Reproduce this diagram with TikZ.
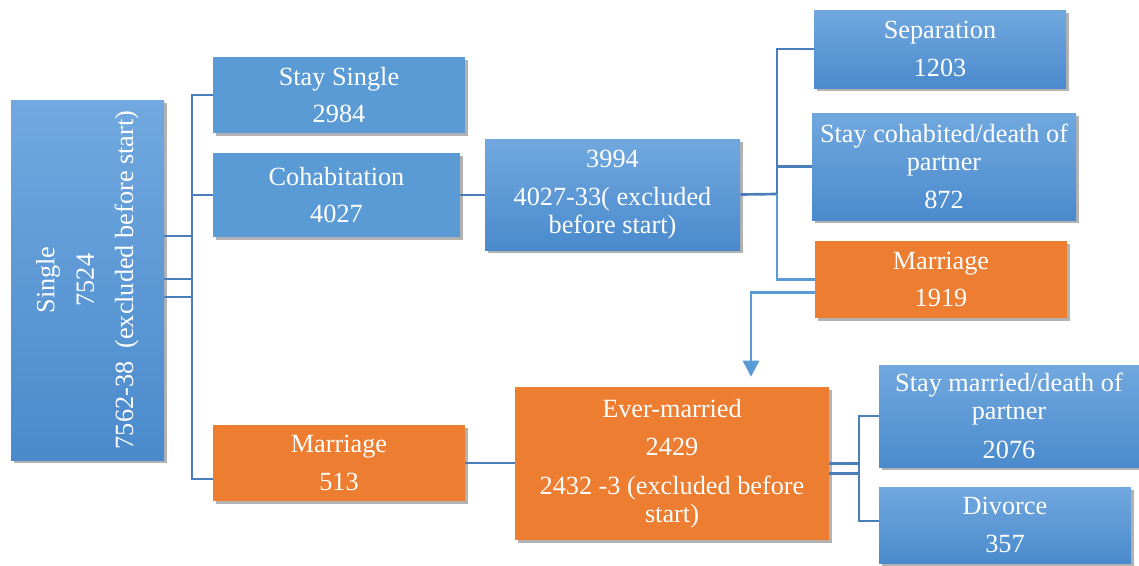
\documentclass[tikz,border=0pt]{standalone}
\usepackage{fontspec}
\setmainfont{Liberation Serif}
\usetikzlibrary{shadows,arrows.meta}

\definecolor{boxblue}{HTML}{5B9BD5}
\definecolor{boxtop}{HTML}{71A8DF}
\definecolor{boxbot}{HTML}{4A8ACC}
\definecolor{boxorange}{HTML}{ED7D31}
\definecolor{linedark}{HTML}{4A7EBB}
\definecolor{linelight}{HTML}{5B9BD5}

\tikzset{
  boxsize/.style 2 args={minimum width=#1*0.75pt, minimum height=#2*0.75pt},
  box/.style={inner sep=0pt, align=center, text=white,
    font=\fontsize{19.7}{21}\selectfont,
    drop shadow={shadow xshift=2.5pt, shadow yshift=-2.5pt, fill=black, opacity=0.3}},
  flatbox/.style={box, fill=boxblue},
  shadebox/.style={box, top color=boxtop, bottom color=boxbot},
  orangebox/.style={box, fill=boxorange},
  conn/.style={draw=linedark, line width=2pt},
  connl/.style={draw=linelight, line width=2pt},
}

\begin{document}
\begin{tikzpicture}[x=0.75pt,y=-0.75pt]
  \useasboundingbox (0,0) rectangle (1139,565);

  % boxes
  \node[shadebox, boxsize={153}{360}] (single) at (87.5,280) {};
  \node[rotate=90, align=center, text=white, font=\fontsize{19.7}{21}\selectfont] (singlelabel) at (single.center)
    {Single\\[8.5pt]7524\\[8.5pt]7562-38~~(excluded before start)};
  \node[flatbox, boxsize={252}{76}] (staysingle) at (339,95) {Stay Single\\[7pt]2984};
  \node[flatbox, boxsize={247}{84}] (cohab) at (336.5,195) {Cohabitation\\[7pt]4027};
  \node[orangebox, boxsize={252}{76}] (marrlow) at (339,463) {Marriage\\[7pt]513};
  \node[shadebox, boxsize={255}{111}] (cohabnet) at (612.5,194.5) {3994\\[8pt]4027-33( excluded\\before start)};
  \node[shadebox, boxsize={252}{78}] (separation) at (940,49) {Separation\\[7pt]1203};
  \node[shadebox, boxsize={264}{107}] (staycohab) at (944,166.5) {Stay cohabited/death of\\partner\\[8pt]872};
  \node[orangebox, boxsize={252}{77}] (marrtop) at (941,279.5) {Marriage\\[7pt]1919};
  \node[orangebox, boxsize={314}{153}] (evermarried) at (672,463.5) {Ever-married\\[8pt]2429\\[8pt]2432 -3 (excluded before\\start)};
  \node[shadebox, boxsize={260}{102}] (staymarried) at (1009,416) {Stay married/death of\\partner\\[8pt]2076};
  \node[shadebox, boxsize={252}{76}] (divorce) at (1005,525) {Divorce\\[7pt]357};

  % joints
  \coordinate (ljoin) at (192,95);
  \coordinate (rjoin) at (777,194);
  \coordinate (mjoin) at (859,416);

  % connectors
  \draw[conn] (staysingle.west) -| ([yshift=-12pt]marrlow.west -| ljoin) -- ([yshift=-12pt]marrlow.west);
  \draw[conn] (cohab.west) -- (cohab.west -| ljoin);
  \foreach \s in {33pt,0.75pt,-12.75pt}
    \draw[conn] ([yshift=\s]single.east) -- ([yshift=\s]single.east -| ljoin);
  \draw[conn] (cohab.east) -- (cohab.east -| cohabnet.west);
  \draw[conn] (cohabnet.east) -- (rjoin);
  \draw[conn] (separation.west) -| (rjoin);
  \draw[conn] (staycohab.west) -- (staycohab.west -| rjoin);
  \draw[connl] (marrtop.west) -| (rjoin);
  \draw[connl, -{Triangle[width=12pt,length=12pt]}] ([yshift=-9.75pt]marrtop.west) -| ([shift={(79,-10)}]evermarried.north);
  \draw[conn] (marrlow.east) -- (marrlow.east -| evermarried.west);
  \foreach \s in {0pt,-7.5pt}
    \draw[conn] ([yshift=\s]evermarried.east) -- ([yshift=\s]evermarried.east -| mjoin);
  \draw[conn] (staymarried.west) -| ([yshift=3pt]divorce.west -| mjoin) -- ([yshift=3pt]divorce.west);
\end{tikzpicture}
\end{document}
